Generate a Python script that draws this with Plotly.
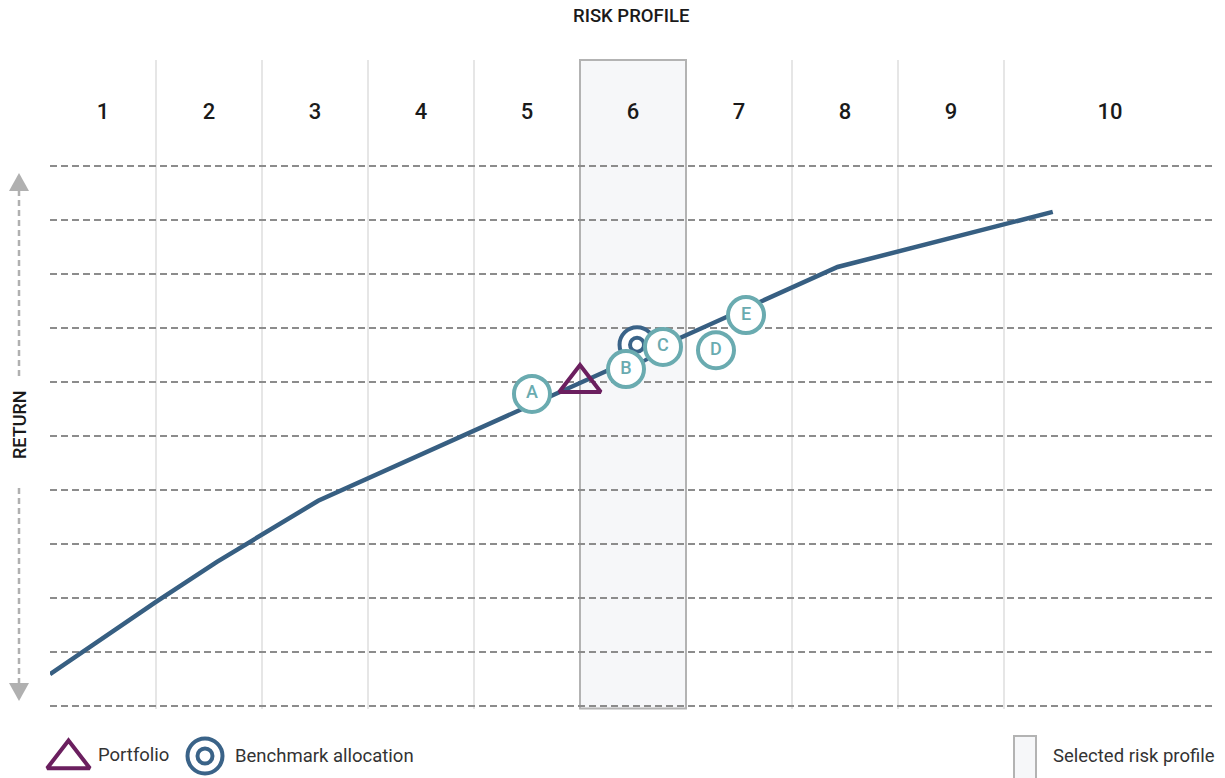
import plotly.graph_objects as go

# ---------------- data ----------------
risk_labels = ["1", "2", "3", "4", "5", "6", "7", "8", "9", "10"]
risk_label_x = [0.5, 1.5, 2.5, 3.5, 4.5, 5.5, 6.5, 7.5, 8.5, 10.0]
risk_label_y = 10.98

frontier_x = [0.0, 1.0, 1.575, 2.0, 2.53, 7.43, 9.46]
frontier_y = [0.59, 1.93, 2.67, 3.17, 3.80, 8.13, 9.15]

alt_labels = ["A", "B", "C", "D", "E"]
alt_x = [4.547, 5.434, 5.783, 6.283, 6.566]
alt_y = [5.78, 6.24, 6.65, 6.59, 7.24]

portfolio_x = [5.0]
portfolio_y = [5.98]

benchmark_x = [5.538]
benchmark_y = [6.69]

selected_profile = 6
return_grid = list(range(0, 11))
risk_grid = [1, 2, 3, 4, 7, 8, 9]

legend_labels = ["Portfolio", "Benchmark allocation", "Selected risk profile"]

# ---------------- styles ----------------
W, H = 1225, 778
FONT = "Roboto"
LINE_C = "#375f82"
TEAL = "#6aabb0"
PURPLE = "#6b1f5f"
BENCH = "#3a6388"
GRID_V = "#e6e6e6"
GRID_H = "#8c8c8c"
BOX_FILL = "#f6f7f9"
BOX_LINE = "#b3b3b3"
ARROW_C = "#b0b0b0"
TXT = "#1a1a1a"

fig = go.Figure()

# main frontier line
fig.add_trace(go.Scatter(x=frontier_x, y=frontier_y, mode="lines",
                         line=dict(color=LINE_C, width=4.5), hoverinfo="skip",
                         xaxis="x", yaxis="y"))
# benchmark (double ring)
fig.add_trace(go.Scatter(x=benchmark_x, y=benchmark_y, mode="markers",
                         marker=dict(symbol="circle", size=35, color="white",
                                     line=dict(color=BENCH, width=4)),
                         xaxis="x", yaxis="y"))
fig.add_trace(go.Scatter(x=benchmark_x, y=benchmark_y, mode="markers",
                         marker=dict(symbol="circle-open", size=14, color=BENCH,
                                     line=dict(color=BENCH, width=4)),
                         xaxis="x", yaxis="y"))
# alternatives
fig.add_trace(go.Scatter(x=alt_x, y=alt_y, mode="markers+text", text=alt_labels,
                         textposition="middle center",
                         textfont=dict(family=FONT, size=18, color=TEAL, weight=500),
                         marker=dict(symbol="circle", size=36, color="white",
                                     line=dict(color=TEAL, width=4)),
                         xaxis="x", yaxis="y"))
# portfolio
fig.add_trace(go.Scatter(x=portfolio_x, y=portfolio_y, mode="markers",
                         marker=dict(symbol="triangle-up-open", size=36, color=PURPLE,
                                     line=dict(color=PURPLE, width=4)),
                         xaxis="x", yaxis="y"))
# column labels
fig.add_trace(go.Scatter(x=risk_label_x, y=[risk_label_y] * len(risk_labels),
                         mode="text", text=risk_labels,
                         textfont=dict(family=FONT, size=22, color=TXT, weight=500),
                         xaxis="x", yaxis="y"))

# ---------- legend icons (overlay pixel axes) ----------
fig.add_trace(go.Scatter(x=[68.5], y=[759], mode="markers",
                         marker=dict(symbol="triangle-up-open", size=37, color=PURPLE,
                                     line=dict(color=PURPLE, width=4)),
                         xaxis="x2", yaxis="y2"))
fig.add_trace(go.Scatter(x=[205], y=[756], mode="markers",
                         marker=dict(symbol="circle-open", size=35, color=BENCH,
                                     line=dict(color=BENCH, width=4)),
                         xaxis="x2", yaxis="y2"))
fig.add_trace(go.Scatter(x=[205], y=[756], mode="markers",
                         marker=dict(symbol="circle-open", size=15, color=BENCH,
                                     line=dict(color=BENCH, width=4)),
                         xaxis="x2", yaxis="y2"))

shapes = [
    # selected risk profile column
    dict(type="rect", xref="x", yref="y domain", x0=selected_profile - 1, x1=selected_profile,
         y0=0, y1=1, fillcolor=BOX_FILL, line=dict(color=BOX_LINE, width=2), layer="below"),
    # legend box
    dict(type="rect", xref="x2", yref="y2", x0=1014, x1=1036, y0=736, y1=790,
         fillcolor=BOX_FILL, line=dict(color=BOX_LINE, width=2), layer="above"),
    # return arrow (dashed with heads)
    dict(type="line", xref="x2", yref="y2", x0=19, x1=19, y0=190, y1=376,
         line=dict(color=ARROW_C, width=2.5, dash="6px,4px")),
    dict(type="line", xref="x2", yref="y2", x0=19, x1=19, y0=488, y1=684,
         line=dict(color=ARROW_C, width=2.5, dash="6px,4px")),
    dict(type="path", xref="x2", yref="y2", path="M9,191 L29,191 L19,173 Z",
         fillcolor=ARROW_C, line=dict(width=0)),
    dict(type="path", xref="x2", yref="y2", path="M9,683 L29,683 L19,701 Z",
         fillcolor=ARROW_C, line=dict(width=0)),
]

annotations = [
    dict(text="RISK PROFILE", xref="x2", yref="y2", x=631, y=16, showarrow=False,
         font=dict(family=FONT, size=18.5, color=TXT, weight=500)),
    dict(text="RETURN", xref="x2", yref="y2", x=19, y=425, showarrow=False, textangle=-90,
         font=dict(family=FONT, size=18, color=TXT, weight=500)),
    dict(text=legend_labels[0], xref="x2", yref="y2", x=96, y=755, xanchor="left",
         showarrow=False, font=dict(family=FONT, size=18.5, color="#333333")),
    dict(text=legend_labels[1], xref="x2", yref="y2", x=233, y=756, xanchor="left",
         showarrow=False, font=dict(family=FONT, size=18.5, color="#333333")),
    dict(text=legend_labels[2], xref="x2", yref="y2", x=1051, y=756, xanchor="left",
         showarrow=False, font=dict(family=FONT, size=18.5, color="#333333")),
]

y_bottom_pad = 2.5  # px below the lowest gridline
fig.update_layout(
    width=W, height=H, margin=dict(l=0, r=0, t=0, b=0),
    paper_bgcolor="white", plot_bgcolor="rgba(0,0,0,0)",
    showlegend=False, hovermode=False,
    font=dict(family=FONT),
    xaxis=dict(domain=[50 / W, 1212 / W], range=[0, 1162 / 106], tickvals=risk_grid,
               showticklabels=False, ticks="", showgrid=True, gridcolor=GRID_V,
               gridwidth=2, zeroline=False, showline=False, anchor="y"),
    yaxis=dict(domain=[(H - 706 - y_bottom_pad) / H, (H - 60) / H],
               range=[-y_bottom_pad / 54, 646 / 54], tickvals=return_grid,
               showticklabels=False, ticks="", showgrid=True, gridcolor=GRID_H,
               gridwidth=2, griddash="7px,4px", zeroline=False, showline=False, anchor="x"),
    xaxis2=dict(domain=[0, 1], range=[0, W], visible=False, anchor="y2"),
    yaxis2=dict(domain=[0, 1], range=[H, 0], visible=False, anchor="x2"),
    shapes=shapes, annotations=annotations,
)

fig.write_html("out.html")
